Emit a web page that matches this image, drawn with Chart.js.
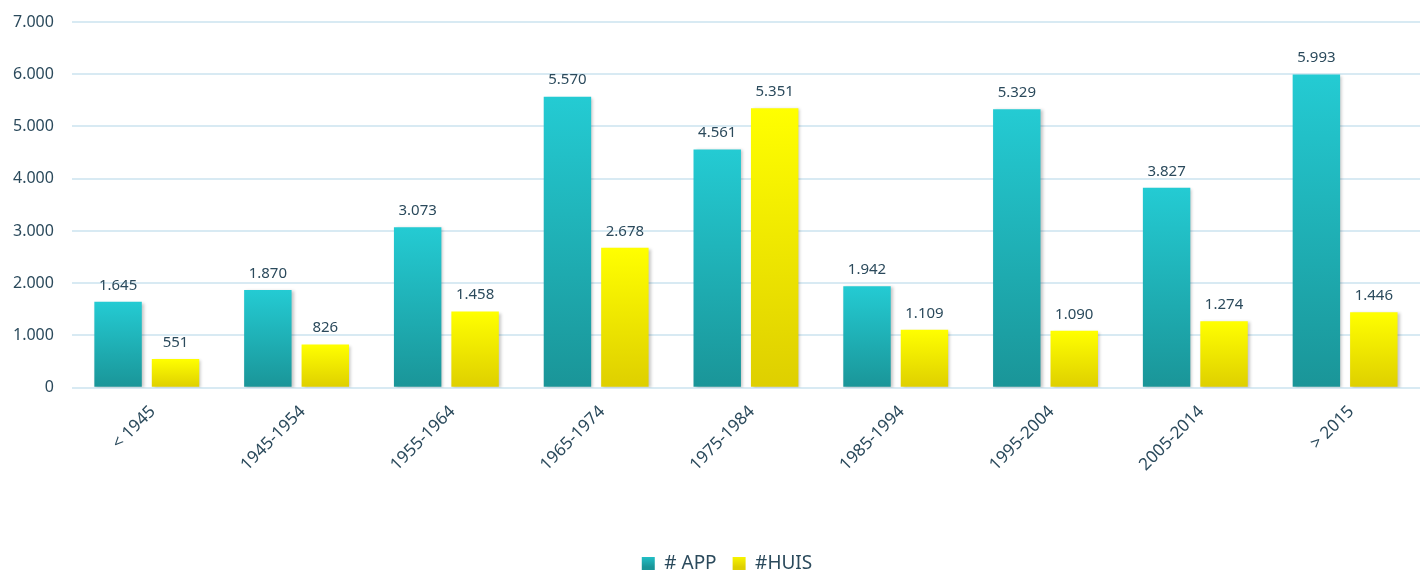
<!DOCTYPE html>
<html>
<head>
<meta charset="utf-8">
<script src="https://cdn.jsdelivr.net/npm/chart.js@4"></script>
<style>
  html,body{margin:0;padding:0;background:#fff;}
  #wrap{width:1427px;height:571px;}
</style>
</head>
<body>
<div id="wrap"><canvas id="c"></canvas></div>
<script>
// bouwjaar categories
const categories = ['< 1945','1945-1954','1955-1964','1965-1974','1975-1984','1985-1994','1995-2004','2005-2014','> 2015'];
const appValues  = [1645, 1870, 3073, 5570, 4561, 1942, 5329, 3827, 5993];
const huisValues = [551, 826, 1458, 2678, 5351, 1109, 1090, 1274, 1446];
const yTicks = [0, 1000, 2000, 3000, 4000, 5000, 6000, 7000];

const textColor = '#2B4A5C';
const fontFam = '"Noto Sans", "Open Sans", sans-serif';

function fmt(v){ return String(v).replace(/\B(?=(\d{3})+(?!\d))/g, '.'); }

// per-bar vertical gradient, top colour -> bottom colour
function barGradient(top, bottom){
  return function(ctx){
    const chart = ctx.chart;
    if(!chart.chartArea || ctx.type !== 'data') return top;
    const y = chart.scales.y;
    const y0 = y.getPixelForValue(ctx.raw), y1 = y.getPixelForValue(0);
    if(!isFinite(y0) || y0 === y1) return top;
    const g = chart.ctx.createLinearGradient(0, y0, 0, y1);
    g.addColorStop(0, top);
    g.addColorStop(1, bottom);
    return g;
  };
}

// drop shadow on bars + value labels on top, legend nudged down/right
const barExtras = {
  id: 'barExtras',
  afterLayout(chart){
    const lg = chart.legend;
    if(lg){ lg.top += 12; lg.bottom += 12; lg.left += 17; lg.right += 17; }
  },
  beforeDatasetsDraw(chart){
    const c = chart.ctx;
    c.save();
    c.shadowColor = 'rgba(0,0,0,0.22)';
    c.shadowOffsetX = 2; c.shadowOffsetY = 1; c.shadowBlur = 3;
  },
  afterDatasetsDraw(chart){
    const c = chart.ctx;
    c.restore();
    c.save();
    c.font = '15px ' + fontFam;
    c.fillStyle = textColor;
    c.textAlign = 'center';
    c.textBaseline = 'bottom';
    chart.data.datasets.forEach((ds, i)=>{
      chart.getDatasetMeta(i).data.forEach((bar, j)=>{
        c.fillText(fmt(ds.data[j]), bar.x, bar.y - 9);
      });
    });
    c.restore();
  }
};

function legendBox(chart, top, bottom){
  const h = chart.height;
  const g = chart.ctx.createLinearGradient(0, h - 17, 0, h - 4);
  g.addColorStop(0, top); g.addColorStop(1, bottom);
  return g;
}

new Chart(document.getElementById('c'), {
  type: 'bar',
  data: {
    labels: categories,
    datasets: [
      {label: '# APP', data: appValues, backgroundColor: barGradient('#24CBD3', '#1A9598'),
       categoryPercentage: 0.767, barPercentage: 0.826},
      {label: '#HUIS', data: huisValues, backgroundColor: barGradient('#FFFF00', '#DECF00'),
       categoryPercentage: 0.767, barPercentage: 0.826}
    ]
  },
  options: {
    responsive: true,
    maintainAspectRatio: false,
    animation: false,
    layout: {padding: {top: 0, right: 7, left: 0, bottom: 0}},
    plugins: {
      tooltip: {enabled: false},
      legend: {
        position: 'bottom',
        labels: {
          font: {size: 19, family: fontFam},
          color: textColor,
          boxWidth: 13, boxHeight: 13,
          padding: 16,
          generateLabels(chart){
            return [
              {text: '# APP', fillStyle: legendBox(chart, '#24CBD3', '#1A9598'), strokeStyle: 'transparent', lineWidth: 0, fontColor: textColor, datasetIndex: 0},
              {text: '#HUIS', fillStyle: legendBox(chart, '#FFFF00', '#DECF00'), strokeStyle: 'transparent', lineWidth: 0, fontColor: textColor, datasetIndex: 1}
            ];
          }
        }
      }
    },
    scales: {
      x: {
        grid: {display: false},
        border: {display: false},
        ticks: {color: textColor, font: {size: 17, family: fontFam}, minRotation: 45, maxRotation: 45, padding: 6, labelOffset: 6},
        afterFit(scale){ scale.height += 45; }
      },
      y: {
        min: 0, max: 7000,
        afterBuildTicks(scale){ scale.ticks = yTicks.map(v=>({value: v})); },
        afterFit(scale){ scale.paddingTop = 22; scale.width -= 5; },
        grid: {color: '#D8EAF3', lineWidth: 2, drawTicks: false},
        border: {display: false},
        ticks: {color: textColor, font: {size: 16, family: fontFam}, padding: 18, callback: v=>fmt(v)}
      }
    }
  },
  plugins: [barExtras]
});
</script>
</body>
</html>
